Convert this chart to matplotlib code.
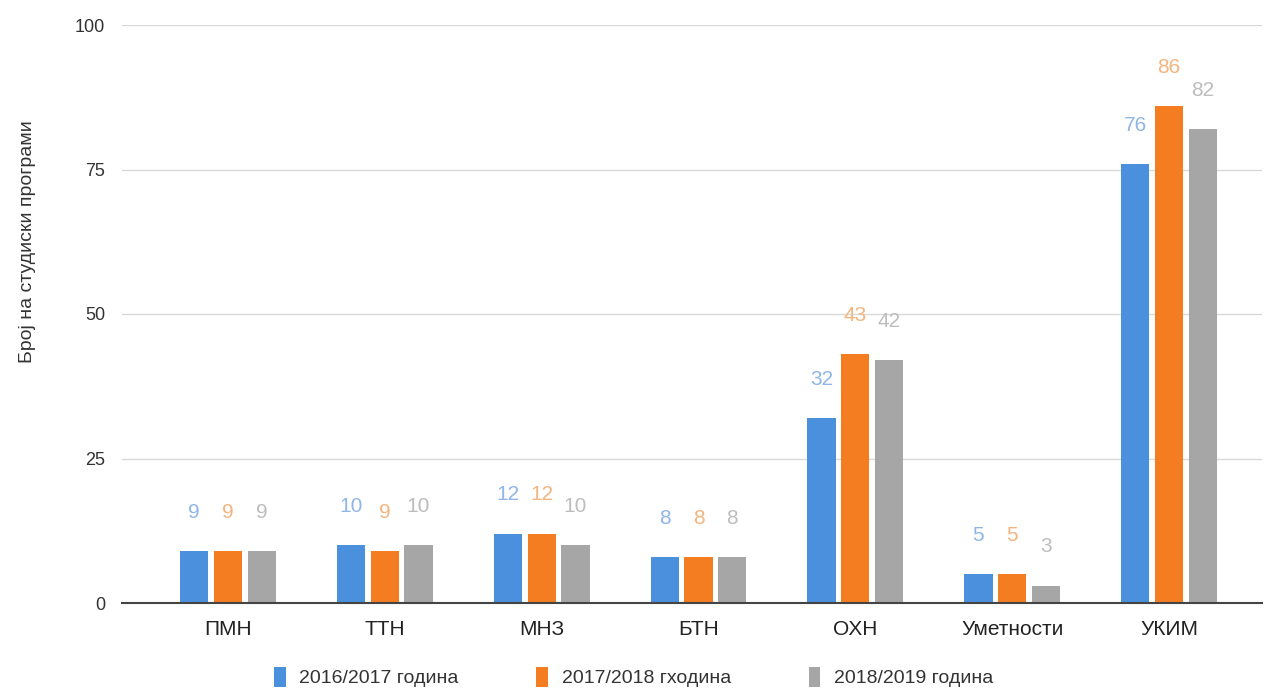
import matplotlib
matplotlib.use("Agg")
import matplotlib.pyplot as plt
import numpy as np

categories = ["ПМН", "ТТН", "МНЗ", "БТН", "ОХН", "Уметности", "УКИМ"]
series_names = ["2016/2017 година", "2017/2018 гходина", "2018/2019 година"]
v2016 = [9, 10, 12, 8, 32, 5, 76]
v2017 = [9, 9, 12, 8, 43, 5, 86]
v2018 = [9, 10, 10, 8, 42, 3, 82]
yticks = [0, 25, 50, 75, 100]
ylabel = "Број на студиски програми"

colors = ["#4a90dc", "#f47d22", "#a6a6a6"]
label_colors = ["#8fb6e6", "#f4b47e", "#bdbdbd"]

plt.rcParams['font.family'] = ['Liberation Sans', 'DejaVu Sans']

W, H = 1267, 692
fig = plt.figure(figsize=(W / 100, H / 100), dpi=100)
ax_left, ax_right, ax_top, ax_bottom = 122, 1262, 25, 603
ax = fig.add_axes([ax_left / W, 1 - ax_bottom / H, (ax_right - ax_left) / W, (ax_bottom - ax_top) / H])

x = np.arange(len(categories))
pitch = 0.215
width = 0.18
series = [v2016, v2017, v2018]
for i, (vals, c, lc, name) in enumerate(zip(series, colors, label_colors, series_names)):
    pos = x + (i - 1) * pitch
    bars = ax.bar(pos, vals, width=width, color=c, label=name, zorder=3)
    for b, v in zip(bars, vals):
        ax.annotate(str(v), (b.get_x() + b.get_width() / 2, v), xytext=(0, 21),
                    textcoords="offset points", ha="center", va="bottom",
                    fontsize=15, color=lc, zorder=4, annotation_clip=False)

# x range: category centers at 228 .. 1169 px
c0, c6 = 228, 1169
step = (c6 - c0) / 6
ax.set_xlim(-(c0 - ax_left) / step, 6 + (ax_right - c6) / step)
ax.set_ylim(0, 100)
ax.set_yticks(yticks)
ax.set_yticklabels([str(t) for t in yticks], fontsize=13, color="#333333")
ax.set_xticks(x)
ax.set_xticklabels(categories, fontsize=15, color="#222222")
ax.tick_params(axis="y", length=0, pad=12)
ax.tick_params(axis="x", length=0, pad=12)
ax.grid(axis="y", color="#d9d9d9", linewidth=1, zorder=0)
for s in ["top", "right", "left"]:
    ax.spines[s].set_visible(False)
ax.spines["bottom"].set_color("#444444")
ax.spines["bottom"].set_linewidth(1.5)
ax.spines["bottom"].set_zorder(5)

fig.text(28 / W, 1 - 242 / H, ylabel, rotation=90, ha="center", va="center",
         fontsize=14, color="#333333")

leg = fig.legend(loc="center", bbox_to_anchor=(0.5, 1 - 677 / H), ncol=3, frameon=False,
                 fontsize=14, handlelength=0.6, handleheight=1.2, columnspacing=4.0,
                 handletextpad=0.7)
for t in leg.get_texts():
    t.set_color("#333333")

fig.savefig("out.png", dpi=100)
